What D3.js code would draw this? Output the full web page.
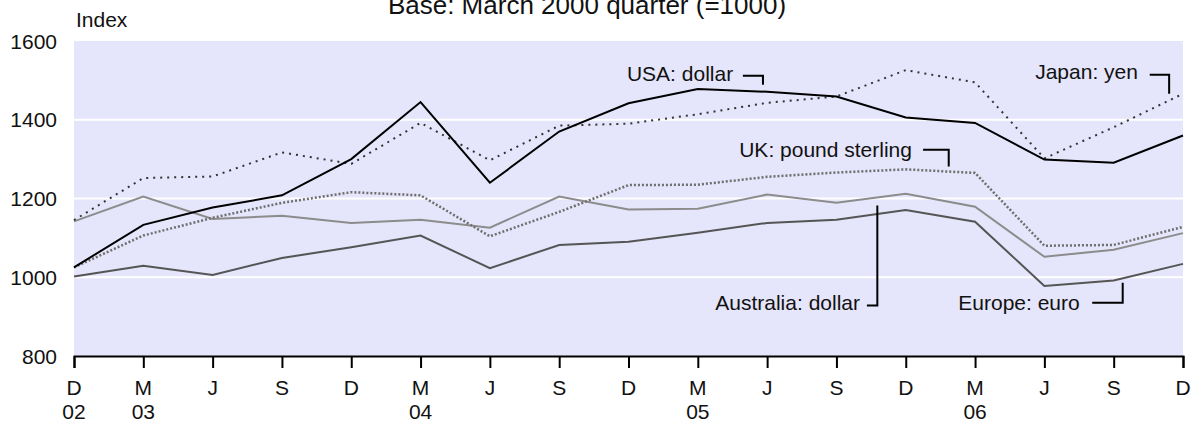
<!DOCTYPE html>
<html>
<head>
<meta charset="utf-8">
<script src="https://cdn.jsdelivr.net/npm/d3@7"></script>
<style>
  body { margin: 0; background: #fff; }
  svg text { font-family: "Liberation Sans", Arial, sans-serif; fill: #111; }
</style>
</head>
<body>
<svg id="chart" width="1191" height="423"></svg>
<script>
// quarters, Dec 2002 .. Dec 2006
var months = ['D', 'M', 'J', 'S', 'D', 'M', 'J', 'S', 'D', 'M', 'J', 'S', 'D', 'M', 'J', 'S', 'D'];
var years = ['02', '03', '', '', '', '04', '', '', '', '05', '', '', '', '06', '', '', ''];
var yTicks = [800, 1000, 1200, 1400, 1600];

var usa = [1025, 1133, 1177, 1208, 1300, 1445, 1240, 1370, 1442, 1478, 1471, 1459, 1406, 1392, 1299, 1291, 1360];
var japan = [1145, 1252, 1256, 1317, 1288, 1392, 1297, 1385, 1390, 1414, 1443, 1459, 1526, 1495, 1302, 1381, 1466];
var uk = [1025, 1106, 1151, 1189, 1216, 1208, 1104, 1166, 1234, 1235, 1255, 1266, 1274, 1265, 1080, 1082, 1128];
var australia = [1142, 1205, 1148, 1156, 1138, 1146, 1126, 1205, 1172, 1174, 1210, 1189, 1212, 1179, 1052, 1070, 1112];
var europe = [1002, 1029, 1006, 1049, 1076, 1106, 1023, 1082, 1090, 1113, 1138, 1146, 1171, 1141, 978, 992, 1034];

var series = [
  { name: 'Australia: dollar', values: australia, color: '#8c8c8c', dash: null, width: 2 },
  { name: 'Europe: euro', values: europe, color: '#555555', dash: null, width: 2 },
  { name: 'UK: pound sterling', values: uk, color: '#6e6e6e', dash: '2,2', width: 2.5 },
  { name: 'Japan: yen', values: japan, color: '#333333', dash: '2,5', width: 2 },
  { name: 'USA: dollar', values: usa, color: '#000000', dash: null, width: 2 }
];

// label text end + leader path, in (quarter index, index value)
var labels = [
  { text: 'USA: dollar', at: [9.51, 1499], leader: [[9.65, 1512], [9.94, 1512], [9.94, 1489]] },
  { text: 'Japan: yen', at: [15.35, 1504], leader: [[15.52, 1514], [15.80, 1514], [15.80, 1466]] },
  { text: 'UK: pound sterling', at: [12.09, 1306], leader: [[12.25, 1324], [12.62, 1324], [12.62, 1281]] },
  { text: 'Australia: dollar', at: [11.34, 918], leader: [[11.44, 928], [11.59, 928], [11.59, 1182]] },
  { text: 'Europe: euro', at: [14.51, 918], leader: [[14.69, 935], [15.13, 935], [15.13, 986]] }
];

var svg = d3.select('#chart');
var mLeft = 74, mRight = 1183, mTop = 41, mBottom = 356;

var x = d3.scaleLinear().domain([0, months.length - 1]).range([mLeft, mRight]);
var y = d3.scaleLinear().domain([800, 1600]).range([mBottom, mTop]);

// background
svg.append('rect')
  .attr('x', mLeft).attr('y', mTop)
  .attr('width', mRight - mLeft).attr('height', mBottom - mTop)
  .attr('fill', '#e5e5fb');

// gridlines
svg.append('g')
  .selectAll('line')
  .data(yTicks.filter(function(d) { return d > 800 && d < 1600; }))
  .enter().append('line')
  .attr('x1', mLeft).attr('x2', mRight)
  .attr('y1', function(d) { return y(d); })
  .attr('y2', function(d) { return y(d); })
  .attr('stroke', '#fff')
  .attr('stroke-width', 2);

// y labels
svg.append('g')
  .selectAll('text')
  .data(yTicks)
  .enter().append('text')
  .attr('x', 57)
  .attr('y', function(d) { return y(d); })
  .attr('dy', '0.36em')
  .attr('text-anchor', 'end')
  .style('font-size', '21px')
  .text(function(d) { return d; });

// x axis
var xAxis = d3.axisBottom(x)
  .tickValues(d3.range(months.length))
  .tickSize(12)
  .tickFormat('');
var ax = svg.append('g')
  .attr('transform', 'translate(0,' + mBottom + ')')
  .call(xAxis);
ax.select('.domain').attr('stroke', '#000').attr('stroke-width', 2);
ax.selectAll('.tick line').attr('stroke', '#000').attr('stroke-width', 2);

svg.append('g')
  .selectAll('text')
  .data(months)
  .enter().append('text')
  .attr('x', function(d, i) { return x(i); })
  .attr('y', 395)
  .attr('text-anchor', 'middle')
  .style('font-size', '21px')
  .text(function(d) { return d; });

svg.append('g')
  .selectAll('text')
  .data(years)
  .enter().append('text')
  .attr('x', function(d, i) { return x(i); })
  .attr('y', 419)
  .attr('text-anchor', 'middle')
  .style('font-size', '21px')
  .text(function(d) { return d; });

// lines
var line = d3.line()
  .x(function(d, i) { return x(i); })
  .y(function(d) { return y(d); });

svg.append('g')
  .selectAll('path')
  .data(series)
  .enter().append('path')
  .attr('d', function(s) { return line(s.values); })
  .attr('fill', 'none')
  .attr('stroke', function(s) { return s.color; })
  .attr('stroke-width', function(s) { return s.width; })
  .attr('stroke-dasharray', function(s) { return s.dash; });

// labels and leaders
var lg = svg.append('g');
labels.forEach(function(l) {
  lg.append('text')
    .attr('x', x(l.at[0]))
    .attr('y', y(l.at[1]))
    .attr('text-anchor', 'end')
    .style('font-size', '21px')
    .text(l.text);
  lg.append('path')
    .attr('d', d3.line().x(function(p) { return x(p[0]); }).y(function(p) { return y(p[1]); })(l.leader))
    .attr('fill', 'none')
    .attr('stroke', '#000')
    .attr('stroke-width', 2);
});

// titles
svg.append('text')
  .attr('x', 76).attr('y', 27)
  .style('font-size', '21px')
  .text('Index');

svg.append('text')
  .attr('x', 587).attr('y', 14)
  .attr('text-anchor', 'middle')
  .style('font-size', '26px')
  .text('Base: March 2000 quarter (=1000)');
</script>
</body>
</html>
